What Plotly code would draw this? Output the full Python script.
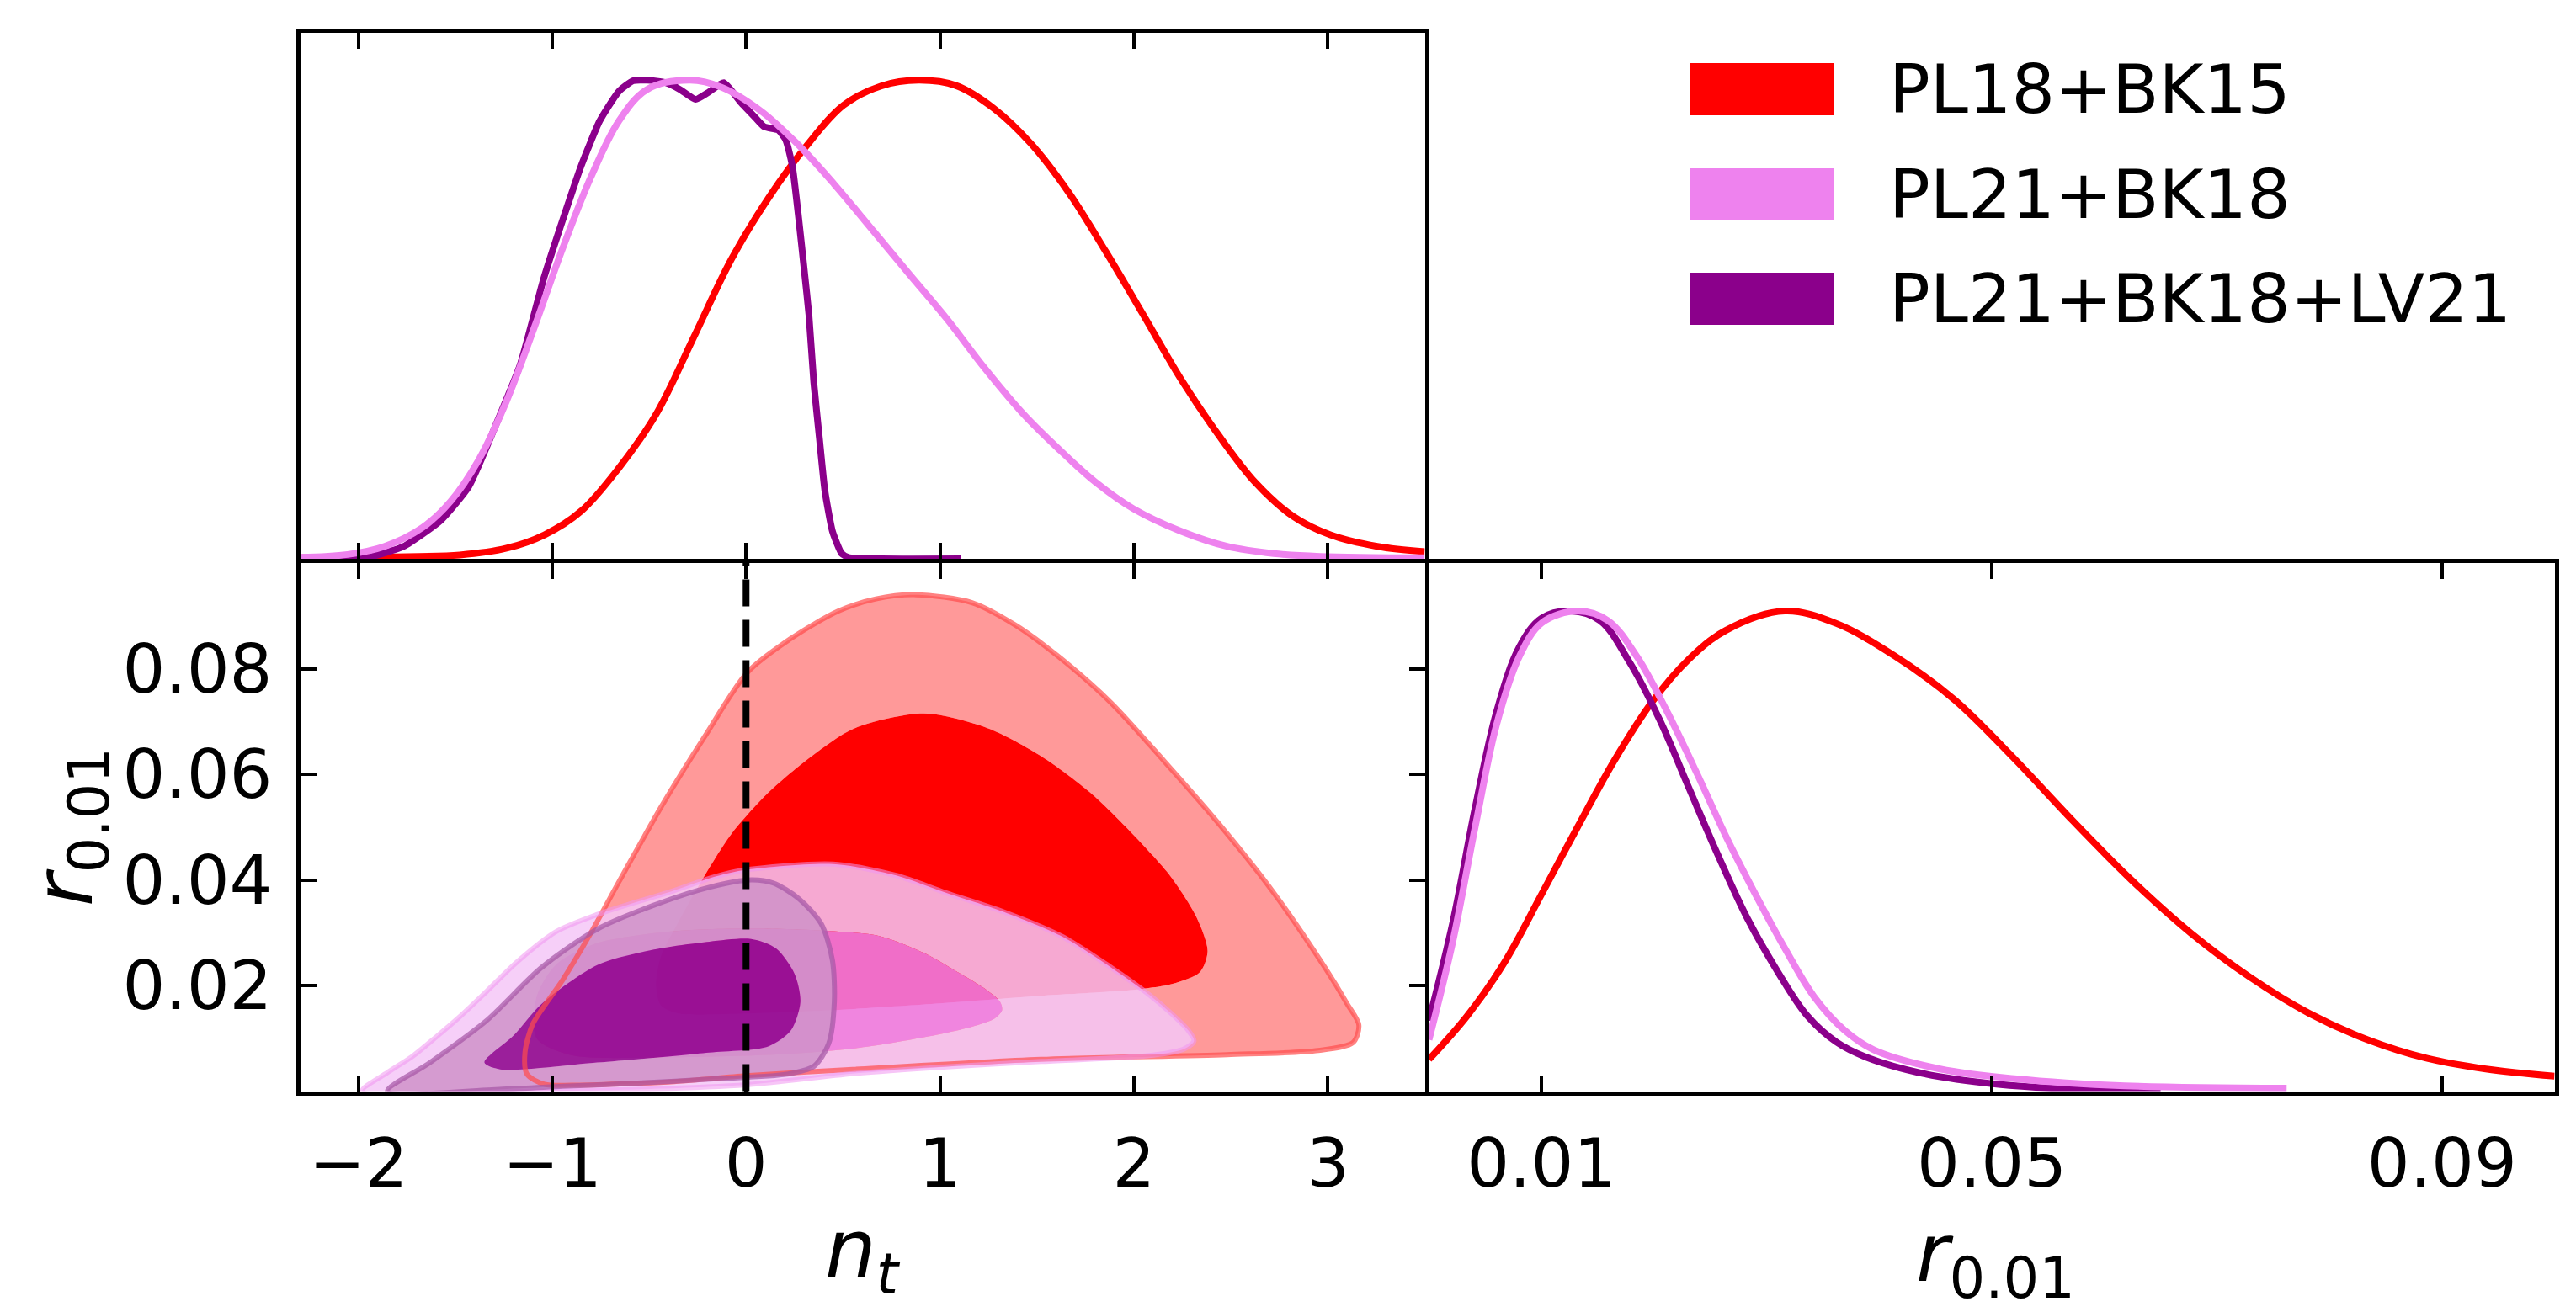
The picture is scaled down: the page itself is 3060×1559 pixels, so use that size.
import plotly.graph_objects as go

W, H = 3060, 1559
FONT = "DejaVu Sans"

# ---------------- 1D marginal of n_t (top panel), peak normalised to 1
nt_red = [-2.3, -1.86, -1.476, -1.235, -1.04, -0.85, -0.656, -0.463, -0.27, -0.076, 0.117, 0.31,
          0.503, 0.696, 0.89, 1.082, 1.275, 1.468, 1.661, 1.855, 2.048, 2.24, 2.434, 2.627, 2.82,
          3.013, 3.255, 3.5]
p_nt_red = [0.002, 0.004, 0.008, 0.022, 0.05, 0.10, 0.19, 0.303, 0.463, 0.626, 0.755, 0.862,
            0.948, 0.988, 1.0, 0.989, 0.942, 0.868, 0.767, 0.642, 0.51, 0.377, 0.26, 0.159, 0.089,
            0.05, 0.026, 0.015]

nt_violet = [-2.3, -2.055, -1.864, -1.67, -1.524, -1.38, -1.235, -1.09, -0.945, -0.80, -0.656,
             -0.51, -0.29, -0.125, 0.069, 0.262, 0.454, 0.648, 0.841, 1.034, 1.227, 1.42, 1.613,
             1.806, 2.0, 2.24, 2.48, 2.72, 2.96, 3.5]
p_nt_violet = [0.003, 0.009, 0.026, 0.065, 0.12, 0.206, 0.33, 0.486, 0.65, 0.798, 0.915,
               0.981, 1.0, 0.985, 0.938, 0.868, 0.783, 0.689, 0.595, 0.502, 0.40, 0.307, 0.229,
               0.159, 0.104, 0.058, 0.026, 0.011, 0.005, 0.002]

nt_purple = [-2.1, -1.95, -1.766, -1.573, -1.43, -1.28, -1.163, -1.042, -0.897, -0.85, -0.755,
             -0.656, -0.583, -0.51, -0.415, -0.342, -0.26, -0.197, -0.115, -0.028, 0.045, 0.093,
             0.165, 0.204, 0.238, 0.271, 0.30, 0.324, 0.349, 0.378, 0.406, 0.445, 0.493, 0.527,
             0.7, 1.106]
p_nt_purple = [0.0, 0.003, 0.026, 0.081, 0.151, 0.29, 0.408, 0.588, 0.767, 0.822, 0.915,
               0.977, 0.999, 1.0, 0.995, 0.981, 0.96, 0.974, 0.995, 0.954, 0.923, 0.903,
               0.896, 0.876, 0.822, 0.712, 0.603, 0.51, 0.369, 0.252, 0.143, 0.058, 0.011, 0.003,
               0.0, 0.0]

# ---------------- 1D marginal of r_0.01 (right panel)
r_red = [0.0, 0.0034, 0.0067, 0.01, 0.0132, 0.0165, 0.0198, 0.0231, 0.0264, 0.0316, 0.0362,
         0.0414, 0.0467, 0.0519, 0.0572, 0.0624, 0.0677, 0.0729, 0.0782, 0.0834, 0.0887, 0.0939,
         0.1]
p_r_red = [0.066, 0.157, 0.268, 0.41, 0.55, 0.69, 0.81, 0.90, 0.96, 1.0, 0.974,
           0.906, 0.815, 0.695, 0.563, 0.44, 0.329, 0.238, 0.162, 0.107, 0.068, 0.046,
           0.031]

r_violet = [0.0, 0.0021, 0.0041, 0.006, 0.008, 0.01, 0.0132, 0.0159, 0.0185, 0.0211, 0.0238,
            0.0264, 0.029, 0.0316, 0.0342, 0.0369, 0.0395, 0.0454, 0.052, 0.0618, 0.0762]
p_r_violet = [0.107, 0.31, 0.55, 0.763, 0.904, 0.975, 1.0, 0.98, 0.904, 0.793, 0.662,
              0.53, 0.41, 0.298, 0.197, 0.127, 0.086, 0.046, 0.026, 0.011, 0.006]

r_purple = [0.0, 0.0021, 0.0041, 0.006, 0.008, 0.01, 0.0126, 0.0152, 0.0178, 0.0205, 0.0231,
            0.0257, 0.0283, 0.031, 0.0336, 0.0362, 0.0388, 0.044, 0.0506, 0.0572, 0.065]
p_r_purple = [0.147, 0.35, 0.59, 0.79, 0.924, 0.985, 1.0, 0.98, 0.894, 0.773, 0.631,
              0.49, 0.359, 0.248, 0.157, 0.102, 0.071, 0.036, 0.014, 0.004, 0.0]

# ---------------- 2D contours (n_t, r_0.01): 95% (outer) and 68% (inner) boundaries
red95_nt = [-1.04, -1.13, -1.14, -1.10, -0.945, -0.80, -0.655, -0.435, -0.214, 0.007, 0.227,
            0.476, 0.669, 0.876, 1.165, 1.386, 1.607, 1.883, 2.158, 2.434, 2.71, 2.985, 3.10,
            3.16, 3.13, 2.95, 2.48, 1.52, 0.55, 0.0, -0.37, -0.9]
red95_r = [0.0013, 0.0032, 0.0074, 0.0127, 0.0211, 0.030, 0.0397, 0.054, 0.0671, 0.0793, 0.0856,
           0.0909, 0.0932, 0.094, 0.0925, 0.0883, 0.0824, 0.0735, 0.0624, 0.0508, 0.0381, 0.0234,
           0.0165, 0.0125, 0.0092, 0.0077, 0.0069, 0.006, 0.0041, 0.0029, 0.0018, 0.0011]
red68_nt = [-0.214, -0.076, 0.117, 0.337, 0.558, 0.917, 1.248, 1.523, 1.772, 1.993, 2.186,
            2.323, 2.38, 2.34, 2.2, 2.03, 1.5, 1.0, 0.43, -0.1, -0.35, -0.44, -0.465, -0.44,
            -0.35]
red68_r = [0.0408, 0.0487, 0.0566, 0.0634, 0.0687, 0.0715, 0.0687, 0.0634, 0.0566, 0.0487,
           0.0408, 0.0329, 0.0265, 0.0225, 0.0203, 0.0193, 0.018, 0.0166, 0.0153, 0.0146, 0.0147,
           0.0162, 0.020, 0.0255, 0.032]

violet95_nt = [-1.98, -1.85, -1.72, -1.60, -1.47, -1.34, -1.18, -0.98, -0.77, -0.37, -0.17,
               -0.02, 0.448, 0.778, 1.027, 1.331, 1.634, 1.883, 2.07, 2.19, 2.28, 2.31, 2.26,
               2.1, 1.52, 1.0, 0.55, 0.0, -0.5, -1.1]
violet95_r = [0.0, 0.0035, 0.0066, 0.0102, 0.0143, 0.0188, 0.0245, 0.0302, 0.0334, 0.038,
              0.0405, 0.0418, 0.043, 0.0408, 0.0376, 0.0339, 0.0292, 0.0234, 0.0185, 0.0148,
              0.0115, 0.0095, 0.008, 0.0068, 0.0056, 0.0045, 0.0033, 0.0012, 0.0004, 0.0]
violet68_nt = [-1.08, -0.98, -0.77, -0.4, 0.0, 0.393, 0.683, 0.914, 1.069, 1.223, 1.31, 1.32,
               1.28, 1.165, 0.934, 0.586, 0.2, -0.4, -0.9, -1.08]
violet68_r = [0.018, 0.024, 0.028, 0.0302, 0.0308, 0.0304, 0.0294, 0.0262, 0.023, 0.0196,
              0.0169, 0.0153, 0.0137, 0.0122, 0.0103, 0.0082, 0.007, 0.0064, 0.0068, 0.010]

purple95_nt = [-1.85, -1.63, -1.34, -1.055, -0.766, -0.476, -0.19, 0.026, 0.14, 0.27, 0.387,
               0.445, 0.455, 0.426, 0.35, 0.21, -0.17, -0.56, -0.945, -1.235]
purple95_r = [0.0, 0.0054, 0.0133, 0.0234, 0.0307, 0.0352, 0.0386, 0.0400, 0.0394, 0.0365,
              0.0317, 0.0248, 0.0169, 0.009, 0.0047, 0.0032, 0.0023, 0.0015, 0.0009, 0.0004]
purple68_nt = [-1.35, -1.20, -1.055, -0.766, -0.476, -0.19, 0.026, 0.155, 0.25, 0.28, 0.233,
               0.117, -0.19, -0.766, -1.27]
purple68_r = [0.0054, 0.0105, 0.0165, 0.0239, 0.0268, 0.0283, 0.0288, 0.027, 0.0222, 0.0169,
              0.0116, 0.0085, 0.0073, 0.0054, 0.0041]

nt_ref = 0.0

labels = ["PL18+BK15", "PL21+BK18", "PL21+BK18+LV21"]
line_colors = ["#FF0000", "#EE82EE", "#8B008B"]

nt_ticks = [-2, -1, 0, 1, 2, 3]
r_ticks_left = [0.02, 0.04, 0.06, 0.08]
r_ticks_right = [0.01, 0.05, 0.09]

fills = {
    "red": ("rgb(255,153,153)", "rgb(255,0,0)", "rgba(255,75,75,0.7)"),
    "violet": ("rgba(244,199,247,0.85)", "rgba(237,129,235,0.85)", "rgba(240,150,240,0.55)"),
    "purple": ("rgba(207,146,201,0.85)", "rgba(139,0,139,0.85)", "rgba(165,85,165,0.7)"),
}


def closed(a):
    return list(a) + [a[0]]


def ring(ox, oy, ix, iy):
    # outer boundary plus reversed inner boundary -> band between the two levels
    return closed(ox) + [None] + closed(ix[::-1]), closed(oy) + [None] + closed(iy[::-1])


fig = go.Figure()

contours = [
    ("red", red95_nt, red95_r, red68_nt, red68_r),
    ("violet", violet95_nt, violet95_r, violet68_nt, violet68_r),
    ("purple", purple95_nt, purple95_r, purple68_nt, purple68_r),
]
SM = 0.8
for name, ox, oy, ix, iy in contours:
    c_out, c_in, c_edge = fills[name]
    bx, by = ring(ox, oy, ix, iy)
    fig.add_trace(go.Scatter(x=bx, y=by, xaxis="x2", yaxis="y2", mode="lines", fill="toself",
                             fillcolor=c_out, line=dict(width=0, shape="spline", smoothing=SM),
                             hoverinfo="skip", showlegend=False))
    fig.add_trace(go.Scatter(x=closed(ix), y=closed(iy), xaxis="x2", yaxis="y2", mode="lines",
                             fill="toself", fillcolor=c_in,
                             line=dict(width=0, shape="spline", smoothing=SM),
                             hoverinfo="skip", showlegend=False))
for name, ox, oy, ix, iy in contours:
    fig.add_trace(go.Scatter(x=closed(ox), y=closed(oy), xaxis="x2", yaxis="y2", mode="lines",
                             line=dict(width=6, color=fills[name][2], shape="spline", smoothing=SM),
                             hoverinfo="skip", showlegend=False))

# marginals: red, purple, violet (violet drawn on top)
for xs, ys, col, sm in [(nt_red, p_nt_red, line_colors[0], 1.0),
                        (nt_purple, p_nt_purple, line_colors[2], 0.5),
                        (nt_violet, p_nt_violet, line_colors[1], 1.0)]:
    fig.add_trace(go.Scatter(x=xs, y=ys, xaxis="x", yaxis="y", mode="lines",
                             line=dict(color=col, width=8, shape="spline", smoothing=sm),
                             showlegend=False))
for xs, ys, col in [(r_red, p_r_red, line_colors[0]),
                    (r_purple, p_r_purple, line_colors[2]),
                    (r_violet, p_r_violet, line_colors[1])]:
    fig.add_trace(go.Scatter(x=xs, y=ys, xaxis="x3", yaxis="y3", mode="lines",
                             line=dict(color=col, width=8, shape="spline", smoothing=1.0),
                             showlegend=False))

fig.add_shape(type="line", xref="x2", yref="y2 domain", x0=nt_ref, x1=nt_ref, y0=0, y1=1,
              line=dict(color="black", width=8, dash="32px,16px"))

# panel frames: axis lines sit outside the domain, so pull domains in by half a line width
LW = 5
xl = [(346 + LW / 2) / W, (1687 - LW / 2) / W]
xr = [(1687 + LW / 2) / W, (3029 - LW / 2) / W]
yt = [1 - (658.5 - LW / 2) / H, 1 - (28 + LW / 2) / H]
yb = [1 - (1291 - LW / 2) / H, 1 - (658.5 + LW / 2) / H]

tick_font = dict(family=FONT, size=80, color="black")
common = dict(showline=True, linewidth=LW, linecolor="black", showgrid=False, zeroline=False,
              ticks="inside", ticklen=19, tickwidth=4, tickcolor="black", tickfont=tick_font,
              automargin=False)

fig.update_layout(
    width=W, height=H, margin=dict(l=0, r=0, t=0, b=0),
    paper_bgcolor="white", plot_bgcolor="white", showlegend=False,
    xaxis=dict(common, domain=xl, anchor="y", range=[-2.3, 3.5], mirror="ticks",
               tickvals=nt_ticks, showticklabels=False),
    yaxis=dict(common, domain=yt, anchor="x", range=[0, 1.1], mirror=True, ticks="",
               showticklabels=False),
    xaxis2=dict(common, domain=xl, anchor="y2", range=[-2.3, 3.5], mirror="ticks",
                tickvals=nt_ticks, ticktext=[str(v).replace("-", "\u2212") for v in nt_ticks],
                ticklabelstandoff=12),
    yaxis2=dict(common, domain=yb, anchor="x2", range=[0, 0.1], mirror="ticks",
                tickvals=r_ticks_left, ticktext=["%.2f" % v for v in r_ticks_left],
                ticklabelstandoff=12),
    xaxis3=dict(common, domain=xr, anchor="y3", range=[0, 0.1], mirror="ticks",
                tickvals=r_ticks_right, ticktext=["%.2f" % v for v in r_ticks_right],
                ticklabelstandoff=12),
    yaxis3=dict(common, domain=yb, anchor="x3", range=[0, 1.1], mirror=True, ticks="",
                showticklabels=False),
)

title_font = dict(family=FONT, size=96, color="black")
fig.add_annotation(text="<i>n</i><sub><i>t</i></sub>", xref="paper", yref="paper",
                   x=1017 / W, y=1 - 1482 / H, showarrow=False, font=title_font,
                   xanchor="center", yanchor="middle")
fig.add_annotation(text="<i>r</i><sub>0.01</sub>", xref="paper", yref="paper",
                   x=2362 / W, y=1 - 1487 / H, showarrow=False, font=title_font,
                   xanchor="center", yanchor="middle")
fig.add_annotation(text="<i>r</i><sub>0.01</sub>", xref="paper", yref="paper",
                   x=74 / W, y=1 - 975 / H, showarrow=False, font=title_font, textangle=-90,
                   xanchor="center", yanchor="middle")

# legend drawn by hand (large patches)
leg_rows = [98, 223, 347]
for lab, col, yc in zip(labels, line_colors, leg_rows):
    fig.add_shape(type="rect", xref="paper", yref="paper", x0=2000 / W, x1=2171 / W,
                  y0=1 - (yc + 31) / H, y1=1 - (yc - 31) / H, fillcolor=col, line=dict(width=0))
    fig.add_annotation(text=lab, xref="paper", yref="paper", x=2234 / W, y=1 - yc / H,
                       showarrow=False, xanchor="left", yanchor="middle",
                       font=dict(family=FONT, size=81, color="black"))

fig.write_html("out.html")
